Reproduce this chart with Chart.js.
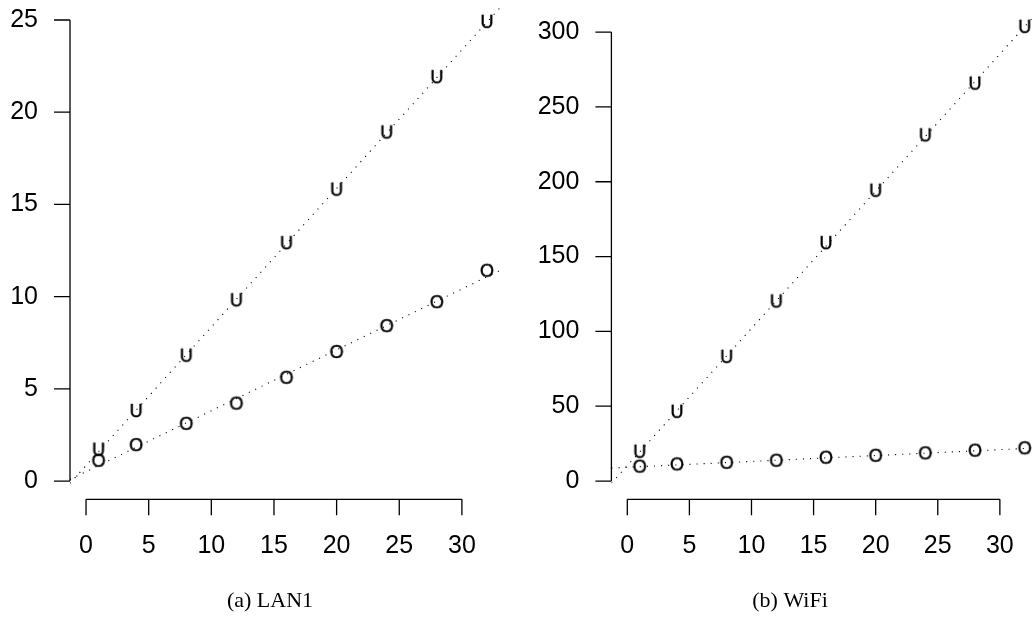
<!DOCTYPE html>
<html>
<head>
<meta charset="utf-8">
<script src="https://cdn.jsdelivr.net/npm/chart.js@4"></script>
<style>
  html, body { margin: 0; padding: 0; background: #fff; overflow: hidden; }
  #wrap { position: relative; width: 1033px; height: 633px; overflow: hidden; }
  canvas { position: absolute; top: 0; }
  #lan { left: 0; }
  #wifi { left: 520px; }
</style>
</head>
<body>
<div id="wrap">
  <canvas id="lan" width="540" height="633"></canvas>
  <canvas id="wifi" width="540" height="633"></canvas>
</div>
<script>
// number of clients
var clients = [1, 4, 8, 12, 16, 20, 24, 28, 32];

// LAN1 measurements
var lanU = [1.7, 3.8, 6.8, 9.8, 12.9, 15.8, 18.9, 21.9, 24.9];
var lanO = [1.1, 1.95, 3.1, 4.2, 5.6, 7.0, 8.4, 9.7, 11.4];

// WiFi measurements
var wifiU = [19.6, 46.3, 83, 120, 159, 194, 231, 265.6, 303.5];
var wifiO = [9.6, 11.1, 12.2, 13.6, 15.6, 16.9, 18.5, 20.3, 21.9];

var xTicks = [0, 5, 10, 15, 20, 25, 30];
var lanTicks = [0, 5, 10, 15, 20, 25];
var wifiTicks = [0, 50, 100, 150, 200, 250, 300];

// letters used as plotting symbols
function glyph(ch) {
  var c = document.createElement('canvas');
  c.width = 22; c.height = 22;
  var g = c.getContext('2d');
  g.font = '18px "Liberation Sans", Arial, sans-serif';
  g.fillStyle = '#000';
  g.strokeStyle = '#000';
  g.lineWidth = 0.5;
  g.textAlign = 'center';
  g.textBaseline = 'alphabetic';
  var by = 11 + 18 * 0.716 / 2;
  g.fillText(ch, 11, by);
  g.strokeText(ch, 11, by);
  return c;
}
var symU = glyph('U');
var symO = glyph('O');

function pts(ys) {
  return clients.map(function (x, i) { return { x: x, y: ys[i] }; });
}

// least squares line, drawn across the whole x range like abline(lm(y ~ x))
function fitLine(ys, x0, x1) {
  var n = clients.length, sx = 0, sy = 0, sxx = 0, sxy = 0;
  for (var i = 0; i < n; i++) {
    sx += clients[i]; sy += ys[i];
    sxx += clients[i] * clients[i]; sxy += clients[i] * ys[i];
  }
  var b = (n * sxy - sx * sy) / (n * sxx - sx * sx);
  var a = (sy - b * sx) / n;
  return [{ x: x0, y: a + b * x0 }, { x: x1, y: a + b * x1 }];
}

// R style axes: lines only span the first to last tick, ticks point outwards
var rAxes = {
  id: 'rAxes',
  afterDraw: function (chart) {
    var ctx = chart.ctx, area = chart.chartArea;
    var sx = chart.scales.x, sy = chart.scales.y;
    var xt = chart.options.plugins.rAxes.xTicks, yt = chart.options.plugins.rAxes.yTicks;
    ctx.save();
    ctx.strokeStyle = '#000';
    ctx.lineWidth = 1.3;
    ctx.beginPath();
    var by = area.bottom;
    ctx.moveTo(sx.getPixelForValue(xt[0]), by);
    ctx.lineTo(sx.getPixelForValue(xt[xt.length - 1]), by);
    xt.forEach(function (v) {
      var px = sx.getPixelForValue(v);
      ctx.moveTo(px, by);
      ctx.lineTo(px, by + 16);
    });
    var lx = area.left;
    ctx.moveTo(lx, sy.getPixelForValue(yt[0]));
    ctx.lineTo(lx, sy.getPixelForValue(yt[yt.length - 1]));
    yt.forEach(function (v) {
      var py = sy.getPixelForValue(v);
      ctx.moveTo(lx, py);
      ctx.lineTo(lx - 16, py);
    });
    ctx.stroke();
    ctx.restore();
  }
};

function panel(id, uVals, oVals, yTicks, yMin, yMax, caption, lay) {
  var xMin = -1.28, xMax = 33.28;
  var tickFont = { family: '"Liberation Sans", Arial, sans-serif', size: 25 };
  var dotted = { borderColor: '#000', borderWidth: 1.1, borderDash: [1.1, 6], pointRadius: 0, showLine: true, fill: false };
  return new Chart(document.getElementById(id), {
    type: 'scatter',
    data: {
      datasets: [
        Object.assign({ data: fitLine(uVals, xMin, xMax) }, dotted),
        Object.assign({ data: fitLine(oVals, xMin, xMax) }, dotted),
        { data: pts(uVals), pointStyle: symU, pointRadius: 11 },
        { data: pts(oVals), pointStyle: symO, pointRadius: 11 }
      ]
    },
    options: {
      responsive: false,
      animation: false,
      layout: { padding: { left: 0, top: lay.top, right: 0, bottom: 18.8 }, autoPadding: false },
      plugins: {
        legend: { display: false },
        tooltip: { enabled: false },
        title: {
          display: true,
          text: caption,
          position: 'bottom',
          color: '#000',
          padding: 0,
          font: { family: '"Liberation Serif", "Times New Roman", serif', size: 22, weight: 'normal' }
        },
        rAxes: { xTicks: xTicks, yTicks: yTicks }
      },
      scales: {
        x: {
          type: 'linear',
          min: xMin,
          max: xMax,
          grid: { display: false, drawTicks: false },
          border: { display: false },
          afterBuildTicks: function (s) { s.ticks = xTicks.map(function (v) { return { value: v }; }); },
          afterFit: function (s) {
            s.height = 88.5;
            s.paddingLeft = 0; s.paddingRight = lay.right;
          },
          ticks: { color: '#000', font: tickFont, padding: 32, maxRotation: 0, autoSkip: false }
        },
        y: {
          type: 'linear',
          min: yMin,
          max: yMax,
          grid: { display: false, drawTicks: false },
          border: { display: false },
          afterBuildTicks: function (s) { s.ticks = yTicks.map(function (v) { return { value: v }; }); },
          afterFit: function (s) {
            s.width = lay.yWidth;
            s.paddingTop = 0; s.paddingBottom = 0;
          },
          ticks: { color: '#000', font: tickFont, padding: 32, autoSkip: false }
        }
      }
    },
    plugins: [rAxes]
  });
}

panel('lan', lanU, lanO, lanTicks, -0.99, 25.85, '(a) LAN1',
  { top: 4.3, right: 37, yWidth: 70 });
panel('wifi', wifiU, wifiO, wifiTicks, -12.2, 315.7, '(b) WiFi',
  { top: 8.6, right: 19.4, yWidth: 91.4 });
</script>
</body>
</html>
